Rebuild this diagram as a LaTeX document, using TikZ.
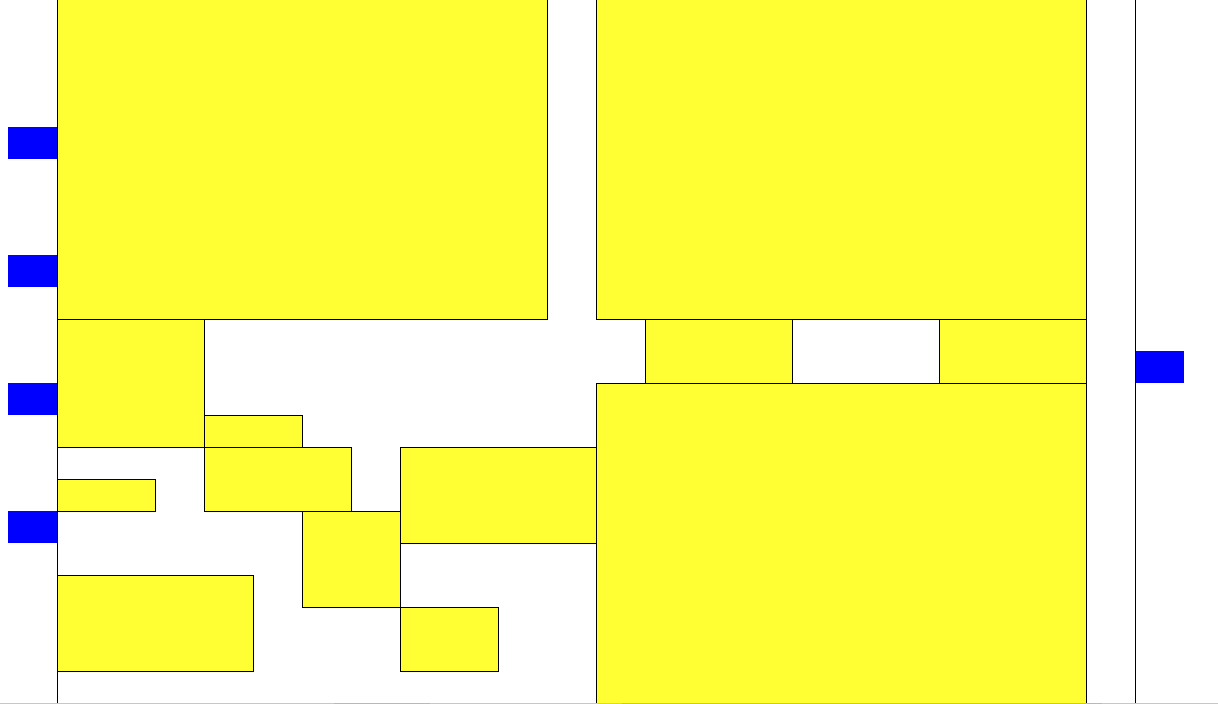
\documentclass[tikz,border=0pt]{standalone}
\usepackage{xcolor}
\usepackage{tikz}
\definecolor{cellyellow}{HTML}{FFFF33}
\definecolor{markblue}{HTML}{0000FF}
\definecolor{railgray}{HTML}{C8C8C8}
\begin{document}
\begin{tikzpicture}[
    x=1.225cm, y=-0.8cm,
    cell/.style={draw=black, fill=cellyellow, line width=0.7pt},
    blank/.style={draw=black, fill=white, line width=0.7pt},
    marker/.style={fill=markblue},
    rule/.style={draw=black, line width=0.7pt},
]
    \useasboundingbox (-0.1633,0.03125) rectangle (24.694,22.03125);

    % large panels
    \draw[cell] (1,-0.3) rectangle (11,10);
    \draw[cell] (12,-0.3) rectangle (22,10);
    \draw[cell] (12,12) rectangle (22,22.5);

    % smaller cells, left part
    \draw[cell] (1,10) rectangle (4,14);
    \draw[cell] (4,13) rectangle (6,14);
    \draw[cell] (4,14) rectangle (7,16);
    \draw[cell] (1,15) rectangle (3,16);
    \draw[cell] (6,16) rectangle (8,19);
    \draw[cell] (8,14) rectangle (12,17);
    \draw[cell] (8,19) rectangle (10,21);
    \draw[cell] (1,18) rectangle (5,21);

    % strip below the right panel
    \draw[cell] (13,10) rectangle (16,12);
    \draw[blank] (16,10) rectangle (19,12);
    \draw[cell] (19,10) rectangle (22,12);

    % blue markers
    \foreach \r in {4,8,12,16}
        \fill[marker] (0,\r) rectangle (1,\r+1);
    \fill[marker] (23,11) rectangle (24,12);

    % vertical rules
    \foreach \c in {1,22,23}
        \draw[rule] (\c,-0.3) -- (\c,22.3);

    % bottom rail
    \draw[railgray, line width=0.7pt] (-0.2,22) -- (24.8,22);
    \draw[cellyellow!80!black, line width=0.7pt] (6.65,22) -- (8.61,22);
    \draw[cellyellow!80!black, line width=0.7pt] (12.53,22) -- (22.33,22);
\end{tikzpicture}
\end{document}
